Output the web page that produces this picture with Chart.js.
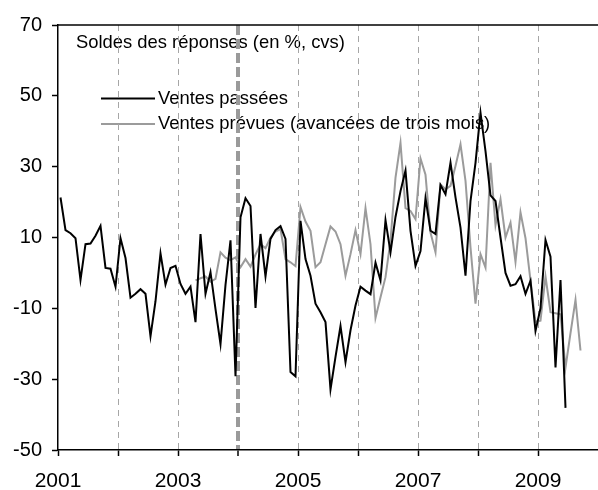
<!DOCTYPE html>
<html>
<head>
<meta charset="utf-8">
<script src="https://cdn.jsdelivr.net/npm/chart.js@4.4.1/dist/chart.umd.min.js"></script>
<style>
  html, body { margin: 0; padding: 0; background: #fff; }
</style>
</head>
<body>
<canvas id="chart" width="598" height="490"></canvas>
<script>
const firstYear = 2001;
const yearTicks = [2001, 2002, 2003, 2004, 2005, 2006, 2007, 2008, 2009, 2010];
const yearLabels = [2001, 2003, 2005, 2007, 2009];
const markerYear = 2004;

const subtitle = "Soldes des réponses (en %, cvs)";

// monthly balances, first value = Jan 2001
const passeesStart = 0;
const ventesPassees = [
  21.3, 12.1, 11.2, 9.8, -2.0, 8.1, 8.3, 10.5, 13.3, 1.4, 1.2, -3.9,
  9.8, 4.2, -7.0, -5.9, -4.6, -5.9, -17.9, -8.0, 5.5, -3.3, 1.4, 2.0,
  -3.1, -5.9, -3.9, -13.9, 11.0, -5.9, 0.2, -10.2, -20.1, -3.4, 9.2, -29.2,
  15.7, 21.1, 18.9, -9.9, 11.0, -1.0, 9.6, 12.1, 13.2, 9.6, -28.0, -29.2,
  14.7, 3.9, -0.8, -8.7, -11.1, -13.9, -32.9, -23.7, -15.0, -25.2, -16.2, -9.2,
  -3.9, -5.0, -6.0, 2.9, -2.1, 14.9, 5.8, 15.8, 23.1, 28.9, 11.9, 2.0,
  6.2, 21.1, 11.9, 11.0, 24.8, 22.2, 31.1, 21.3, 12.8, -0.8, 20.3, 31.1,
  45.2, 34.4, 21.9, 20.3, 10.0, 0.0, -3.6, -3.2, -0.9, -5.9, -2.2, -16.4,
  -10.0, 9.3, 4.6, -26.7, -2.0, -38.1
];

// shifted three months ahead, first value = Apr 2003
const prevuesStart = 27;
const ventesPrevues = [
  -2.1, -1.5, -1.0, -2.5, -1.7, 5.8, 4.3, 3.6, 4.4,
  1.6, 3.9, 1.8, 5.2, 8.1, 7.0, 10.0, 11.7, 12.4, 3.9, 3.0, 1.9,
  18.6, 14.5, 11.9, 1.6, 3.0, 8.1, 13.1, 11.7, 8.1, -0.8, 5.3, 12.1,
  5.3, 18.3, 8.1, -12.7, -6.9, -1.2, 9.1, 26.9, 36.7, 18.3, 17.5, 15.2,
  32.3, 27.7, 11.4, 5.8, 25.0, 23.6, 24.6, 30.2, 36.3, 26.0, 7.2, -8.7,
  5.3, 1.5, 31.1, 13.5, 20.8, 10.0, 14.2, 3.1, 17.1, 9.8, -2.2, -13.8,
  -13.5, -1.0, -11.1, -11.4, -11.7, -26.7, -17.0, -7.6, -21.9
];

const fontFamily = '"Liberation Sans", Arial, sans-serif';
const gridGrey = "#a6a6a6";
const markerGrey = "#9a9a9a";

const toPoints = (values, start) =>
  values.map((v, i) => ({ x: firstYear + (start + i + 0.5) / 12, y: v }));

const isEdge = (v) => v === yearTicks[0] || v === yearTicks[yearTicks.length - 1];

const overlay = {
  id: "overlay",
  beforeDraw(chart) {
    const { ctx, chartArea } = chart;
    ctx.save();
    ctx.font = "18.4px " + fontFamily;
    ctx.fillStyle = "#000";
    ctx.textBaseline = "middle";
    ctx.fillText(subtitle, chartArea.left + 18, chartArea.top + 18);
    chart.data.datasets.forEach((ds, k) => {
      const y = chartArea.top + 73.5 + k * 25.5;
      ctx.strokeStyle = ds.borderColor;
      ctx.lineWidth = 2;
      ctx.beginPath();
      ctx.moveTo(chartArea.left + 43, y);
      ctx.lineTo(chartArea.left + 97, y);
      ctx.stroke();
      ctx.fillText(ds.label, chartArea.left + 100, y);
    });
    ctx.restore();
  },
  afterDatasetsDraw(chart) {
    const { ctx, chartArea } = chart;
    ctx.save();
    ctx.strokeStyle = "#000";
    ctx.lineWidth = 1.5;
    ctx.beginPath();
    ctx.moveTo(chartArea.left, chartArea.top);
    ctx.lineTo(chartArea.right, chartArea.top);
    ctx.stroke();
    ctx.restore();
  },
};

new Chart(document.getElementById("chart"), {
  type: "line",
  data: {
    datasets: [
      {
        label: "Ventes passées",
        data: toPoints(ventesPassees, passeesStart),
        borderColor: "#000000",
        borderWidth: 2,
        pointRadius: 0,
        tension: 0,
      },
      {
        label: "Ventes prévues (avancées de trois mois)",
        data: toPoints(ventesPrevues, prevuesStart),
        borderColor: "#9b9b9b",
        borderWidth: 2,
        pointRadius: 0,
        tension: 0,
      },
    ],
  },
  options: {
    responsive: false,
    animation: false,
    events: [],
    layout: { padding: { top: 25, right: 0, left: 0, bottom: 0 } },
    plugins: {
      legend: { display: false },
      tooltip: { enabled: false },
    },
    scales: {
      x: {
        type: "linear",
        min: yearTicks[0],
        max: yearTicks[yearTicks.length - 1],
        afterBuildTicks: (axis) => {
          axis.ticks = yearTicks.map((v) => ({ value: v }));
        },
        afterFit: (axis) => {
          axis.height = 40;
          axis.paddingRight = 0;
        },
        ticks: {
          autoSkip: false,
          maxRotation: 0,
          padding: 13,
          color: "#000",
          font: { family: fontFamily, size: 21 },
          callback: (v) => (yearLabels.includes(v) ? String(v) : ""),
        },
        grid: {
          color: (c) => (c.tick && isEdge(c.tick.value) ? "rgba(0,0,0,0)" : c.tick && c.tick.value === markerYear ? markerGrey : gridGrey),
          lineWidth: (c) => (c.tick && c.tick.value === markerYear ? 4 : 1),
          tickColor: (c) => (c.tick && c.tick.value === yearTicks[yearTicks.length - 1] ? "rgba(0,0,0,0)" : "#000"),
          tickWidth: 1.5,
          tickLength: 6,
        },
        border: {
          color: "#000",
          width: 1.5,
          dash: (c) => (c.tick && c.tick.value === markerYear ? [10, 4] : [6, 5]),
        },
      },
      y: {
        min: -50,
        max: 70,
        afterBuildTicks: (axis) => {
          const vals = [];
          for (let v = -50; v <= 70; v += 20) vals.push({ value: v });
          axis.ticks = vals;
        },
        afterFit: (axis) => {
          axis.width = 58;
        },
        ticks: {
          padding: 10,
          color: "#000",
          font: { family: fontFamily, size: 20 },
        },
        grid: {
          drawOnChartArea: false,
          tickColor: "#000",
          tickWidth: 1.5,
          tickLength: 6,
        },
        border: { color: "#000", width: 1.5 },
      },
    },
  },
  plugins: [overlay],
});
</script>
</body>
</html>
